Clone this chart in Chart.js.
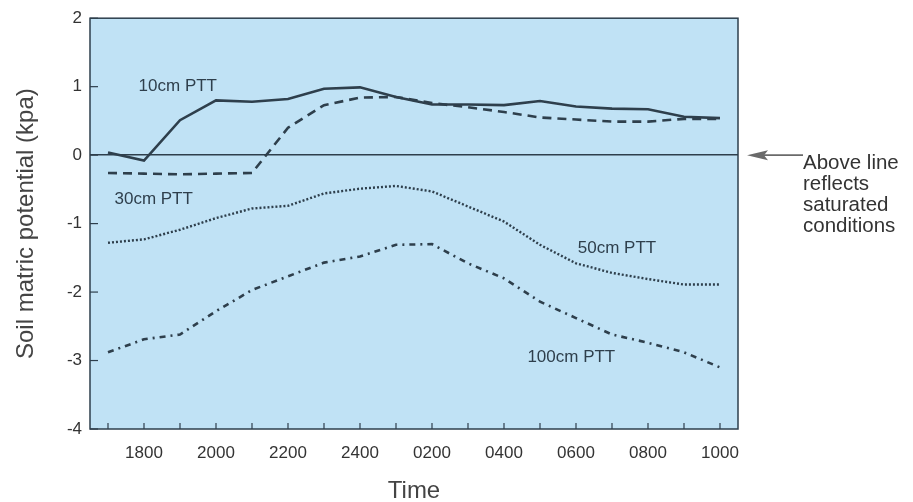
<!DOCTYPE html>
<html>
<head>
<meta charset="utf-8">
<script src="https://cdn.jsdelivr.net/npm/chart.js@4/dist/chart.umd.min.js"></script>
<style>
  html, body { margin: 0; padding: 0; background: #ffffff; }
  #wrap { position: relative; width: 913px; height: 502px; }
</style>
</head>
<body>
<div id="wrap"><canvas id="c" width="913" height="502"></canvas></div>
<script>
// ---- data ----
const times = ['1700','1800','1900','2000','2100','2200','2300','2400','0100','0200','0300','0400','0500','0600','0700','0800','0900','1000'];
const ptt10  = [0.04,-0.08,0.51,0.80,0.78,0.82,0.97,0.99,0.85,0.74,0.74,0.73,0.79,0.71,0.68,0.67,0.56,0.54];
const ptt30  = [-0.26,-0.27,-0.28,-0.27,-0.26,0.40,0.73,0.84,0.85,0.76,0.70,0.63,0.55,0.52,0.49,0.49,0.53,0.53];
const ptt50  = [-1.28,-1.23,-1.09,-0.92,-0.78,-0.74,-0.56,-0.49,-0.45,-0.53,-0.75,-0.97,-1.31,-1.58,-1.72,-1.81,-1.89,-1.89];
const ptt100 = [-2.88,-2.69,-2.62,-2.28,-1.97,-1.77,-1.57,-1.48,-1.31,-1.30,-1.58,-1.80,-2.14,-2.38,-2.62,-2.74,-2.88,-3.10];
const seriesNames = ['10cm PTT','30cm PTT','50cm PTT','100cm PTT'];
const yMin = -4, yMax = 2;
const noteLines = ['Above line','reflects','saturated','conditions'];

const INK = '#2e3f4c';
const FONT = '"Liberation Sans", Arial, Helvetica, sans-serif';

const framePlugin = {
  id: 'frame',
  beforeDraw(chart) {
    const {ctx, chartArea: a} = chart;
    ctx.save();
    ctx.fillStyle = '#c0e2f5';
    ctx.fillRect(a.left, a.top, a.right - a.left, a.bottom - a.top);
    ctx.restore();
  },
  afterDraw(chart) {
    const {ctx, chartArea: a, scales} = chart;
    ctx.save();
    ctx.strokeStyle = INK;
    ctx.lineWidth = 1.5;
    ctx.strokeRect(a.left, a.top, a.right - a.left, a.bottom - a.top);
    // inward tick marks
    ctx.lineWidth = 1.2;
    const xs = scales.x;
    for (let i = 0; i < xs.ticks.length; i++) {
      const px = xs.getPixelForTick(i);
      ctx.beginPath(); ctx.moveTo(px, a.bottom); ctx.lineTo(px, a.bottom - 6); ctx.stroke();
    }
    const ys = scales.y;
    for (let i = 0; i < ys.ticks.length; i++) {
      const py = ys.getPixelForTick(i);
      ctx.beginPath(); ctx.moveTo(a.left, py); ctx.lineTo(a.left + 8, py); ctx.stroke();
    }
    // series labels
    ctx.fillStyle = INK;
    ctx.font = '17px ' + FONT;
    ctx.textBaseline = 'middle';
    ctx.textAlign = 'left';
    const lab = [
      [seriesNames[0], 0.85, 1.0],
      [seriesNames[1], 0.18, -0.64],
      [seriesNames[2], 13.05, -1.36],
      [seriesNames[3], 11.65, -2.95]
    ];
    lab.forEach(([t, xi, yv]) => {
      ctx.fillText(t, xs.getPixelForValue(xi), ys.getPixelForValue(yv));
    });
    // annotation arrow at zero line
    const y0 = ys.getPixelForValue(0);
    const ax = a.right + 9;
    ctx.strokeStyle = '#6a6a6a';
    ctx.fillStyle = '#6a6a6a';
    ctx.lineWidth = 1.8;
    ctx.beginPath(); ctx.moveTo(ax + 16, y0); ctx.lineTo(ax + 56, y0); ctx.stroke();
    ctx.beginPath();
    ctx.moveTo(ax, y0); ctx.lineTo(ax + 21, y0 - 5); ctx.lineTo(ax + 17, y0); ctx.lineTo(ax + 21, y0 + 5); ctx.closePath(); ctx.fill();
    ctx.fillStyle = '#333';
    ctx.font = '20.5px ' + FONT;
    noteLines.forEach((t, i) => ctx.fillText(t, a.right + 65, y0 + 8 + i * 21));
    ctx.restore();
  }
};

const common = { borderColor: INK, backgroundColor: INK, pointRadius: 0, tension: 0, fill: false };

new Chart(document.getElementById('c'), {
  type: 'line',
  data: {
    labels: times,
    datasets: [
      { ...common, label: seriesNames[0], data: ptt10, borderWidth: 2.6 },
      { ...common, label: seriesNames[1], data: ptt30, borderWidth: 2.6, borderDash: [9, 6] },
      { ...common, label: seriesNames[2], data: ptt50, borderWidth: 2.4, borderDash: [2, 2] },
      { ...common, label: seriesNames[3], data: ptt100, borderWidth: 2.6, borderDash: [6, 5, 2, 5] }
    ]
  },
  options: {
    responsive: false,
    animation: false,
    events: [],
    layout: { padding: { top: 17, right: 175, left: 0, bottom: 0 } },
    plugins: { legend: { display: false }, tooltip: { enabled: false } },
    scales: {
      x: {
        type: 'category',
        offset: true,
        grid: { display: true, offset: false, drawOnChartArea: false, drawTicks: false },
        border: { display: false },
        ticks: {
          color: '#333', font: { family: FONT, size: 17 }, padding: 14,
          maxRotation: 0, autoSkip: false,
          callback: function(v, i) { return i % 2 === 1 ? this.getLabelForValue(v) : ''; }
        },
        title: { display: true, text: 'Time', color: '#444', font: { family: FONT, size: 24 }, padding: { top: 0, bottom: -4 } },
        afterFit(s) { s.height = 73; }
      },
      y: {
        min: yMin, max: yMax,
        grid: {
          drawTicks: false,
          color: (c) => c.tick && c.tick.value === 0 ? INK : 'rgba(0,0,0,0)',
          lineWidth: 1.5
        },
        border: { display: false },
        ticks: { stepSize: 1, color: '#333', font: { family: FONT, size: 17 }, padding: 8 },
        title: { display: true, text: 'Soil matric potential (kpa)', color: '#444', font: { family: FONT, size: 24 }, padding: { top: 12, bottom: 0 } },
        afterFit(s) { s.width = 90; }
      }
    }
  },
  plugins: [framePlugin]
});
</script>
</body>
</html>
